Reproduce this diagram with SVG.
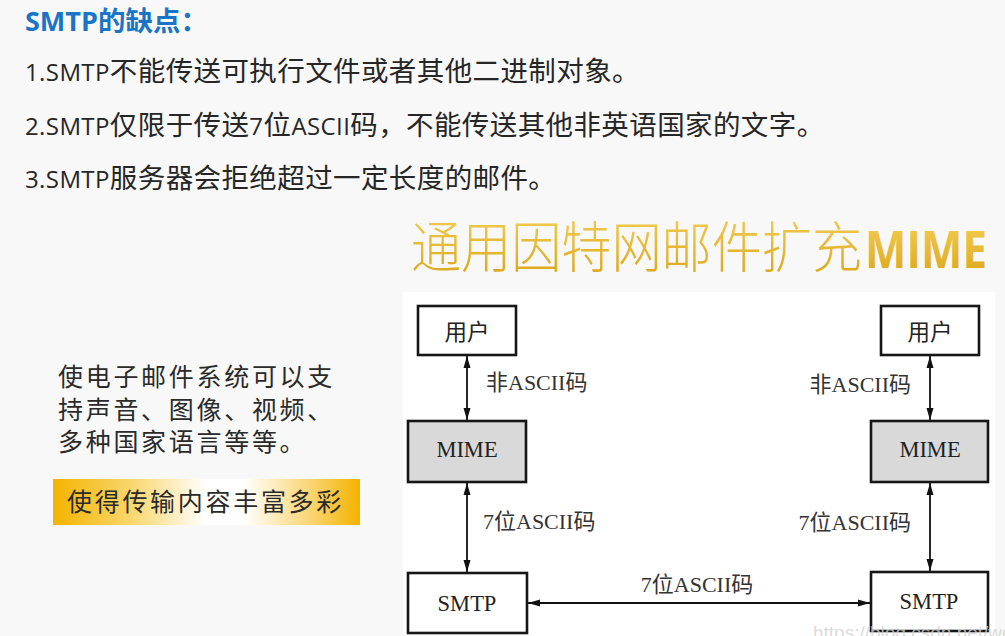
<svg xmlns="http://www.w3.org/2000/svg" width="1005" height="636" viewBox="0 0 1005 636">
<defs>
<linearGradient id="gold" x1="0" y1="0" x2="0" y2="1">
<stop offset="0" stop-color="#f6d35c"/>
<stop offset="1" stop-color="#d9a316"/>
</linearGradient>
<linearGradient id="band" x1="0" y1="0" x2="1" y2="0">
<stop offset="0" stop-color="#f4b300"/>
<stop offset="0.25" stop-color="#f9d66a"/>
<stop offset="0.5" stop-color="#ffffff"/>
<stop offset="0.62" stop-color="#ffffff"/>
<stop offset="0.85" stop-color="#f9d36a"/>
<stop offset="1" stop-color="#f4b300"/>
</linearGradient>
<marker id="arr" viewBox="0 0 12 8" refX="12" refY="4" markerWidth="12" markerHeight="8" markerUnits="userSpaceOnUse" orient="auto-start-reverse">
<path d="M0,0.5 L12,4 L0,7.5 z" fill="#111"/>
</marker>
</defs>
<style>
.cn{font-family:"Noto Sans CJK SC",sans-serif;fill:#262626;font-size:27.5px;letter-spacing:0.4px}
.lat{font-family:"Open Sans","Noto Sans CJK SC",sans-serif;font-size:24px}
.para{font-family:"Noto Sans CJK SC",sans-serif;fill:#2a2a2a;font-size:25px;letter-spacing:2.7px}
.box{fill:#fff;stroke:#161616;stroke-width:2.6}
.gbox{fill:#d9d9d9;stroke:#161616;stroke-width:2.6}
.bt{font-family:"Liberation Serif","Noto Sans CJK SC",serif;font-size:22.5px;fill:#222;text-anchor:middle}
.lb{font-family:"Liberation Serif","Noto Sans CJK SC",serif;font-size:22px;fill:#333}
.conn line{stroke:#111;stroke-width:1.8;marker-start:url(#arr);marker-end:url(#arr)}
</style>
<rect x="0" y="0" width="1005" height="636" fill="#f8f8f8"/>

<g id="header">
<text x="25" y="31" font-family="Open Sans, Noto Sans CJK SC, sans-serif" font-weight="bold" fill="#1c74c6"><tspan font-size="27">SMTP</tspan><tspan font-family="Noto Sans CJK SC, sans-serif" font-size="27.5">的缺点：</tspan></text>
<text class="cn" x="25" y="81"><tspan class="lat">1.SMTP</tspan>不能传送可执行文件或者其他二进制对象。</text>
<text class="cn" x="25" y="135"><tspan class="lat">2.SMTP</tspan>仅限于传送<tspan class="lat">7</tspan>位<tspan class="lat">ASCII</tspan>码，不能传送其他非英语国家的文字。</text>
<text class="cn" x="25" y="188"><tspan class="lat">3.SMTP</tspan>服务器会拒绝超过一定长度的邮件。</text>
</g>

<g id="mime-title">
<text x="411" y="267" font-family="Noto Sans CJK SC, sans-serif" font-weight="300" font-size="55" fill="url(#gold)" textLength="451" lengthAdjust="spacingAndGlyphs">通用因特网邮件扩充</text>
<text x="865" y="268" font-family="Open Sans, Liberation Sans, sans-serif" font-weight="bold" font-size="52" fill="url(#gold)" textLength="122" lengthAdjust="spacingAndGlyphs">MIME</text>
</g>

<g id="left-text">
<text class="para" x="58" y="386">使电子邮件系统可以支</text>
<text class="para" x="58" y="419">持声音、图像、视频、</text>
<text class="para" x="58" y="451">多种国家语言等等。</text>
</g>

<g id="highlight">
<rect x="53" y="479" width="307" height="46" fill="url(#band)"/>
<text class="para" x="67" y="511" fill="#222">使得传输内容丰富多彩</text>
</g>

<rect id="diagram-bg" x="403" y="292" width="592" height="344" fill="#ffffff"/>

<g id="conn" class="conn">
<line x1="467" y1="356" x2="467" y2="420"/>
<line x1="467" y1="483" x2="467" y2="572"/>
<line x1="930" y1="356" x2="930" y2="420"/>
<line x1="930" y1="483" x2="930" y2="571"/>
<line x1="528" y1="603" x2="870" y2="603"/>
</g>

<g id="conn-labels">
<text class="lb" x="486" y="390">非ASCII码</text>
<text class="lb" x="911" y="392" text-anchor="end">非ASCII码</text>
<text class="lb" x="483" y="529">7位ASCII码</text>
<text class="lb" x="911" y="530" text-anchor="end">7位ASCII码</text>
<text class="lb" x="697" y="592" text-anchor="middle">7位ASCII码</text>
</g>

<g id="user-left">
<rect class="box" x="418" y="306" width="98" height="49"/>
<text class="bt" x="467" y="340">用户</text>
</g>
<g id="mime-left">
<rect class="gbox" x="408" y="421" width="118" height="61"/>
<text class="bt" x="467" y="457">MIME</text>
</g>
<g id="smtp-left">
<rect class="box" x="408" y="573" width="119" height="60"/>
<text class="bt" x="467" y="611">SMTP</text>
</g>
<g id="user-right">
<rect class="box" x="881" y="306" width="98" height="49"/>
<text class="bt" x="930" y="340">用户</text>
</g>
<g id="mime-right">
<rect class="gbox" x="871" y="421" width="117" height="61"/>
<text class="bt" x="930" y="457">MIME</text>
</g>
<g id="smtp-right">
<rect class="box" x="871" y="572" width="117" height="59"/>
<text class="bt" x="929" y="609">SMTP</text>
</g>

<text x="813" y="639" font-family="Liberation Sans, sans-serif" font-size="19" fill="#d2d2d2" fill-opacity="0.8">https://blog.csdn.net/we</text>
</svg>
